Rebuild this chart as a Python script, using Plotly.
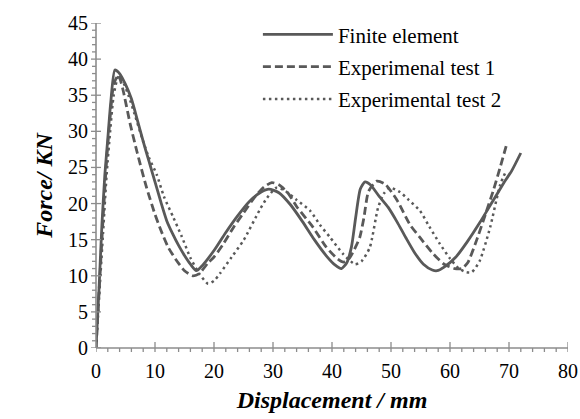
import plotly.graph_objects as go

fe_x = [0, 0.5, 1, 1.5, 2, 2.5, 3.2, 4, 5, 6, 7, 8, 9, 10, 11, 12, 13, 14, 15, 16, 17, 18, 20, 22, 24, 26, 28, 29.3, 31, 33, 35, 37, 39, 40.5, 41.6, 42.5, 43.3, 44, 44.8, 45.6, 46.5, 48, 49.5, 51, 52.5, 54, 55.5, 57, 57.8, 59, 61, 63, 65, 67, 69, 70.5, 72]
fe_y = [0, 8, 17, 24, 29, 34, 38.5, 38, 36.5, 34.5, 31.6, 28.6, 25.8, 23, 20.2, 17.6, 15.8, 14.2, 12.8, 11.6, 10.7, 11.4, 13.5, 16, 18.3, 20.3, 21.6, 22, 21.5, 19.8, 17.5, 15, 12.8, 11.5, 11, 11.8, 14, 18, 22, 23, 22.6, 21, 19.5, 17.5, 15.3, 13.2, 11.6, 10.8, 10.7, 11.2, 12.6, 14.8, 17.3, 20, 22.7, 24.6, 27]

t1_x = [0, 0.6, 1.2, 1.8, 2.4, 3, 3.8, 4.5, 5.8, 7, 8.5, 10, 11, 12.2, 13.5, 15, 16.4, 17.5, 19, 20, 21.5, 23.3, 25, 27, 28.5, 29.8, 31, 32.5, 34, 36.8, 39, 41, 42, 43, 44, 44.7, 45.4, 46.2, 47.6, 49, 51, 53.2, 55, 57.2, 59, 60.8, 62, 63, 64.5, 66, 67.3, 68.5, 69.6]
t1_y = [0, 9, 18, 26, 32, 36.5, 37.8, 36, 31, 27, 22.4, 18.5, 16.3, 14, 12.3, 10.7, 10, 10.3, 11.8, 12.6, 14.3, 16.7, 18.7, 21, 22.3, 22.9, 22.6, 21.5, 19.6, 16.7, 14, 12.3, 11.9, 12.5, 14, 15.3, 18, 21.7, 23.1, 22.7, 20.5, 17.1, 15.2, 13, 11.6, 11, 11, 11.8, 14.9, 18.5, 21.7, 25, 28.2]

t2_x = [0, 0.6, 1.2, 1.8, 2.4, 3, 3.8, 4.5, 5.5, 6.5, 8, 9, 10.3, 11.5, 13.1, 14.5, 16, 17.5, 19, 20, 21, 23, 25, 27.8, 29, 30.6, 32, 34, 36.3, 38, 39.7, 41.9, 43.9, 45, 46.4, 47.8, 48.8, 49.8, 51.5, 53, 54.9, 56.5, 58.3, 60, 61.5, 62.8, 63.7, 65, 66.8, 68.5, 69.5]
t2_y = [0, 8, 16, 24, 30, 35, 37.6, 37, 35, 32.5, 28.6, 26.3, 24, 21, 18.1, 15.5, 12.5, 10.3, 8.9, 9.3, 10.3, 12.6, 14.9, 19.2, 20.8, 22.2, 21.8, 20.5, 19, 17, 15.3, 13, 11.6, 12, 13.9, 19.4, 21.4, 22.2, 21.6, 20.5, 19, 16.8, 14.4, 12.4, 11, 10.5, 10.5, 12, 16.7, 22.6, 24.5]

names = ["Finite element", "Experimenal test 1", "Experimental test 2"]
x_range = [0, 80]
y_range = [0, 45]
x_major = [0, 10, 20, 30, 40, 50, 60, 70, 80]
y_major = [0, 5, 10, 15, 20, 25, 30, 35, 40, 45]
x_minor = [v + d for v in x_major[:-1] for d in (2, 4, 6, 8)]
y_minor = [v + d for v in y_major[:-1] for d in (1, 2, 3, 4)]

LC = "#595959"
AX = "#8c8c8c"
FONT = "Liberation Serif, Times New Roman, serif"
PLOT_W, PLOT_H = 472, 327

fig = go.Figure()
fig.add_trace(go.Scatter(x=fe_x, y=fe_y, mode="lines", name=names[0], legendgroup="a",
                         line=dict(color=LC, width=2.8, shape="spline", smoothing=0.6)))
fig.add_trace(go.Scatter(x=t1_x, y=t1_y, mode="lines", name=names[1], legendgroup="b",
                         line=dict(color=LC, width=2.8, dash="8px,4px", shape="spline", smoothing=0.6)))
fig.add_trace(go.Scatter(x=t2_x, y=t2_y, mode="lines", name=names[2], legendgroup="c",
                         line=dict(color=LC, width=2.5, dash="2.5px,3.5px", shape="spline", smoothing=0.6)))

# axis lines and tick marks (crossing major ticks, outward minor ticks)
tick_line = dict(color=AX, width=1.3)
shapes = [
    dict(type="line", xref="paper", yref="paper", x0=0, x1=1, y0=0, y1=0, line=dict(color=AX, width=1.6)),
    dict(type="line", xref="paper", yref="paper", x0=0, x1=0, y0=0, y1=1, line=dict(color=AX, width=1.6)),
]
for v in x_major:
    shapes.append(dict(type="line", xref="x", yref="paper", x0=v, x1=v,
                       y0=-4 / PLOT_H, y1=6 / PLOT_H, line=tick_line))
for v in x_minor:
    shapes.append(dict(type="line", xref="x", yref="paper", x0=v, x1=v,
                       y0=-4 / PLOT_H, y1=0, line=tick_line))
for v in y_major:
    shapes.append(dict(type="line", xref="paper", yref="y", y0=v, y1=v,
                       x0=-5 / PLOT_W, x1=5 / PLOT_W, line=tick_line))
for v in y_minor:
    shapes.append(dict(type="line", xref="paper", yref="y", y0=v, y1=v,
                       x0=-4 / PLOT_W, x1=0, line=tick_line))

fig.update_layout(
    width=580, height=419,
    margin=dict(l=96, r=12, t=21, b=71),
    plot_bgcolor="white", paper_bgcolor="white",
    font=dict(family=FONT, color="black"),
    shapes=shapes,
    xaxis=dict(range=x_range, tickvals=x_major, showline=False, showgrid=False, zeroline=False,
               automargin=False,
               ticks="outside", ticklen=5, tickcolor="rgba(0,0,0,0)",
               tickfont=dict(family=FONT, size=20, color="black"),
               title=dict(text="<b><i>Displacement / mm</i></b>", font=dict(family=FONT, size=24), standoff=10)),
    yaxis=dict(range=y_range, tickvals=y_major, showline=False, showgrid=False, zeroline=False,
               ticks="outside", ticklen=3, tickcolor="rgba(0,0,0,0)", ticksuffix="   ",
               tickfont=dict(family=FONT, size=20, color="black"),
               title=dict(text="<b><i>Force/ KN</i></b>", font=dict(family=FONT, size=24), standoff=8)),
    legend=dict(x=0.343, y=1.027, xanchor="left", yanchor="top", bgcolor="rgba(0,0,0,0)",
                font=dict(family=FONT, size=21, color="black"), traceorder="grouped",
                tracegroupgap=2, itemwidth=70),
)

fig.write_html("out.html", config={"displayModeBar": False},
               post_script="document.body.style.margin='0';document.body.style.overflow='hidden';")
